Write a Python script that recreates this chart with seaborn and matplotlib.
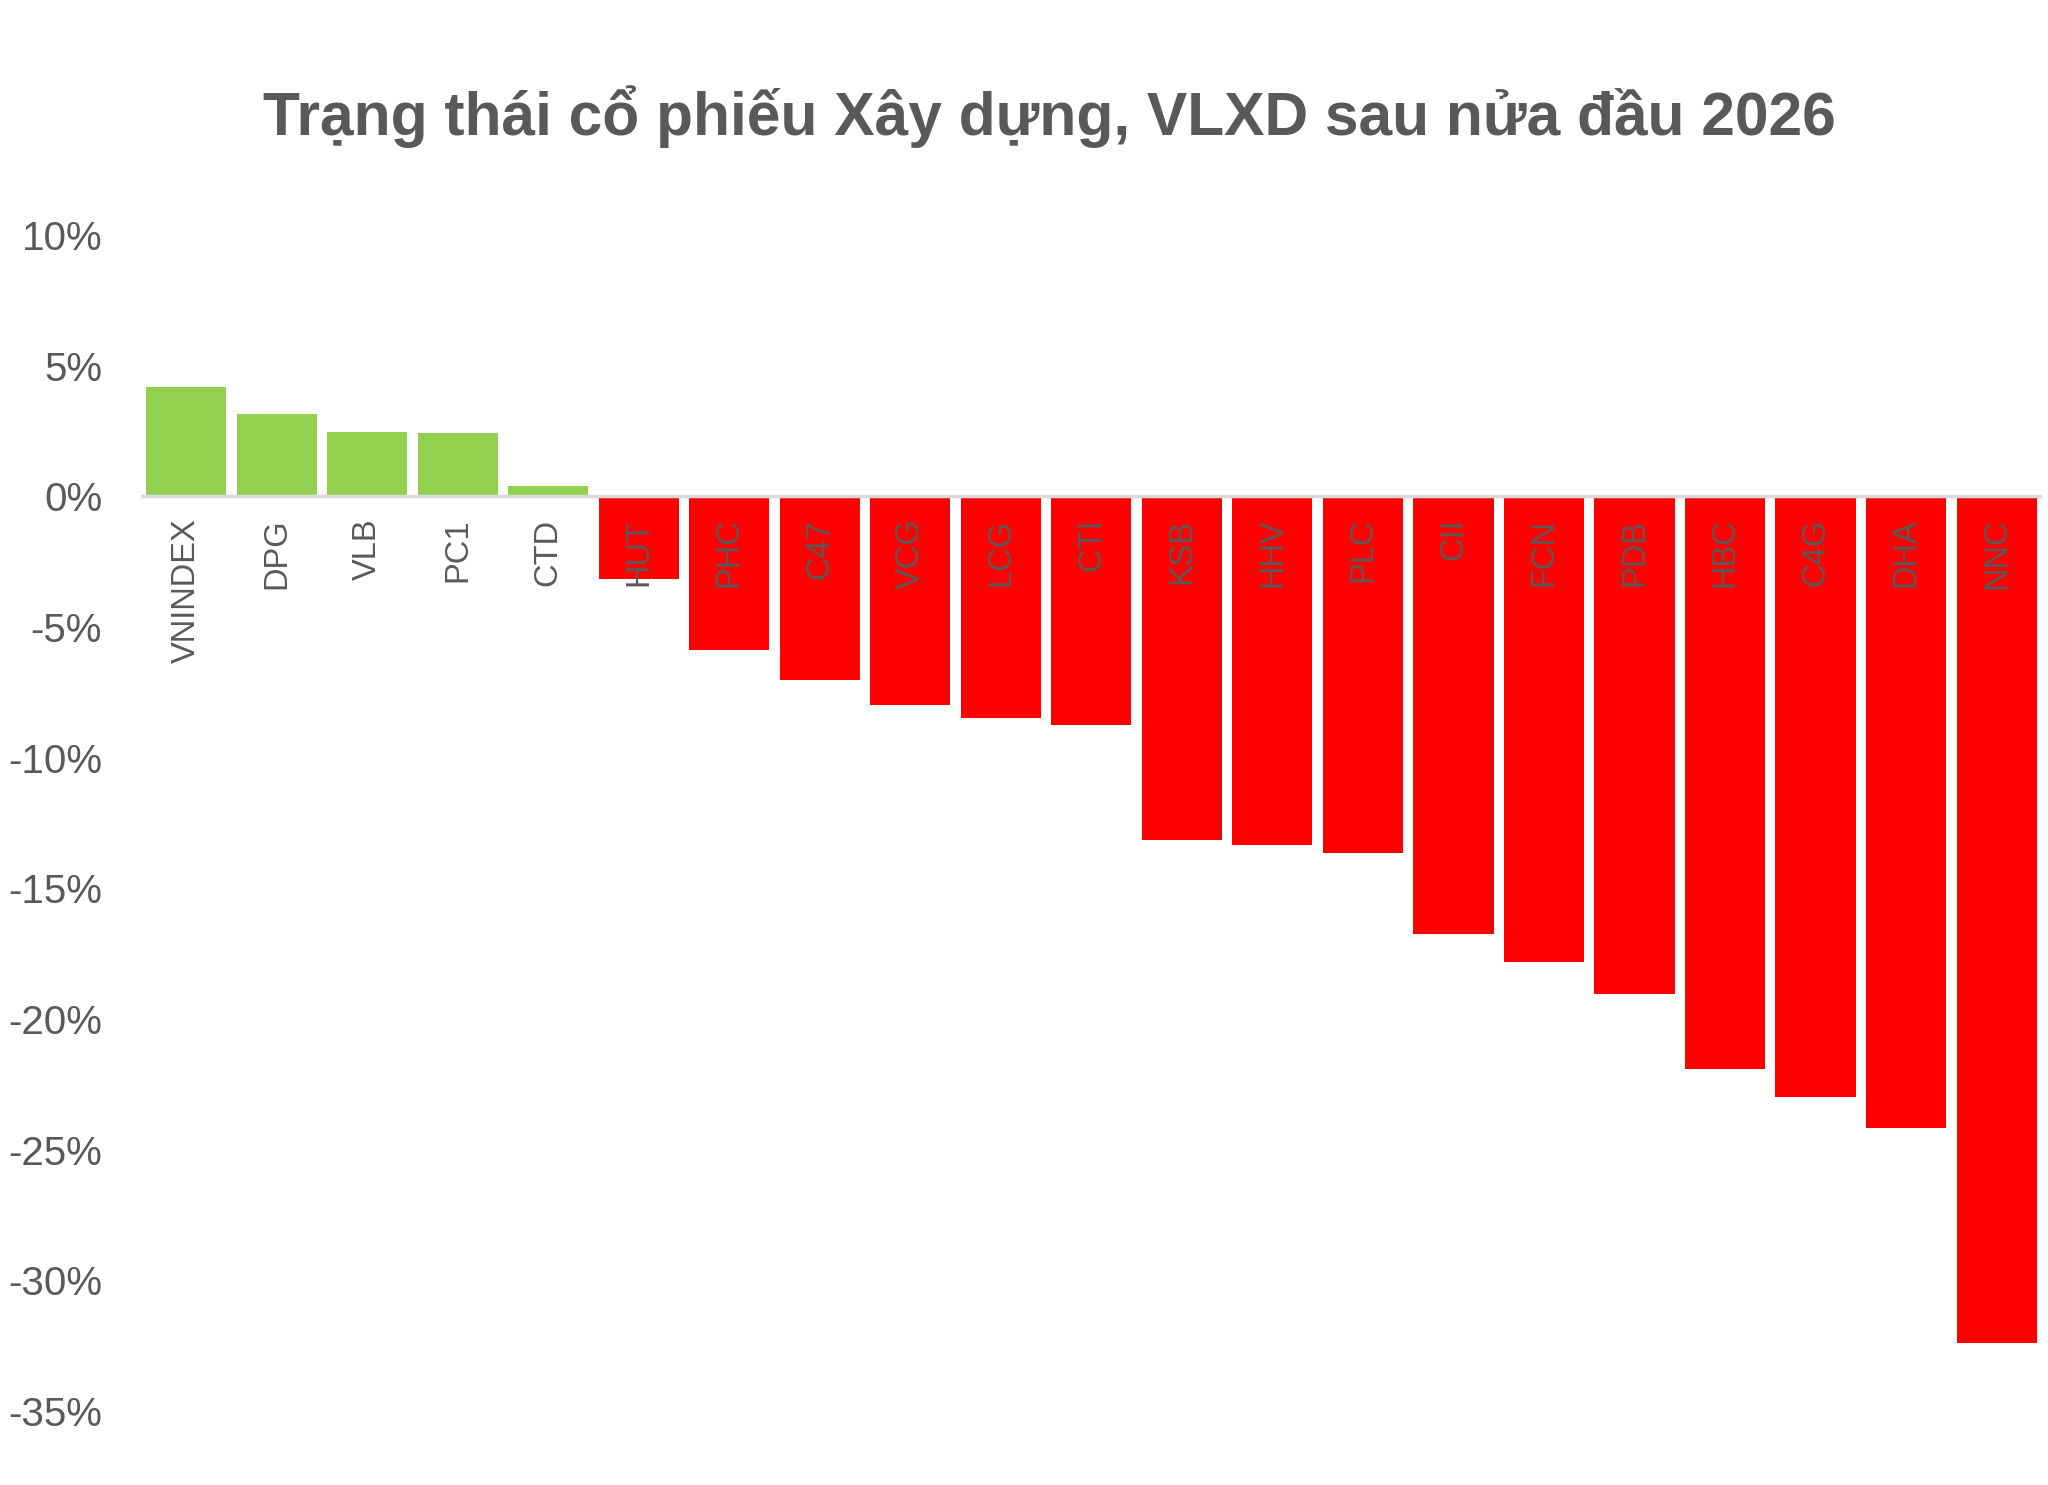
import matplotlib
matplotlib.use("Agg")
import matplotlib.pyplot as plt
import pandas as pd
import seaborn as sns

# dữ liệu (% thay đổi)
tickers = ["VNINDEX", "DPG", "VLB", "PC1", "CTD", "HUT", "PHC", "C47", "VCG", "LCG", "CTI",
           "KSB", "HHV", "PLC", "CII", "FCN", "PDB", "HBC", "C4G", "DHA", "NNC"]
changes = [4.2, 3.13, 2.46, 2.41, 0.41, -3.16, -5.87, -7.02, -7.97, -8.5, -8.77,
           -13.15, -13.33, -13.65, -16.75, -17.82, -19.03, -21.9, -23.0, -24.18, -32.4]
y_ticks = [10, 5, 0, -5, -10, -15, -20, -25, -30, -35]
y_labels = ["10%", "5%", "0%", "-5%", "-10%", "-15%", "-20%", "-25%", "-30%", "-35%"]
title = "Trạng thái cổ phiếu Xây dựng, VLXD sau nửa đầu 2026"

GREEN = "#92D050"
RED = "#FF0000"
GREY = "#595959"

df = pd.DataFrame({"ma": tickers, "thay_doi": changes})
df["nhom"] = ["tang" if v >= 0 else "giam" for v in df["thay_doi"]]

sns.set_style("white")
plt.rcParams["font.family"] = ["Liberation Sans", "DejaVu Sans"]

fig = plt.figure(figsize=(20.48, 14.85), dpi=100)
ax = fig.add_axes([0.0688, 0.0498, 0.9282, 0.792])

sns.barplot(data=df, x="ma", y="thay_doi", hue="nhom", order=tickers,
            palette={"tang": GREEN, "giam": RED}, dodge=False, width=0.885,
            legend=False, saturation=1, linewidth=0, ax=ax)

ax.axhline(0, color="#D9D9D9", lw=2.5, zorder=2)
ax.set_ylim(-35, 10)
ax.set_xlim(-0.5, len(tickers) - 0.5)
ax.set_yticks(y_ticks)
ax.set_yticklabels(y_labels)
ax.set_xlabel("")
ax.set_ylabel("")

# nhãn mã cổ phiếu nằm ngay dưới đường 0%
ax.spines["bottom"].set_position(("data", 0))
for side in ["bottom", "left", "top", "right"]:
    ax.spines[side].set_visible(False)

ax.tick_params(axis="y", length=0, pad=28, labelsize=29, labelcolor=GREY)
ax.tick_params(axis="x", length=0, pad=16, labelsize=23.5, labelcolor=GREY,
               labelrotation=90)
for lab in ax.get_xticklabels():
    lab.set_verticalalignment("top")
ax.xaxis.set_zorder(5)

fig.text(0.5125, 0.9215, title, ha="center", va="center",
         fontsize=43.6, fontweight="bold", color=GREY)

fig.savefig("out.png", dpi=100, facecolor="white")
